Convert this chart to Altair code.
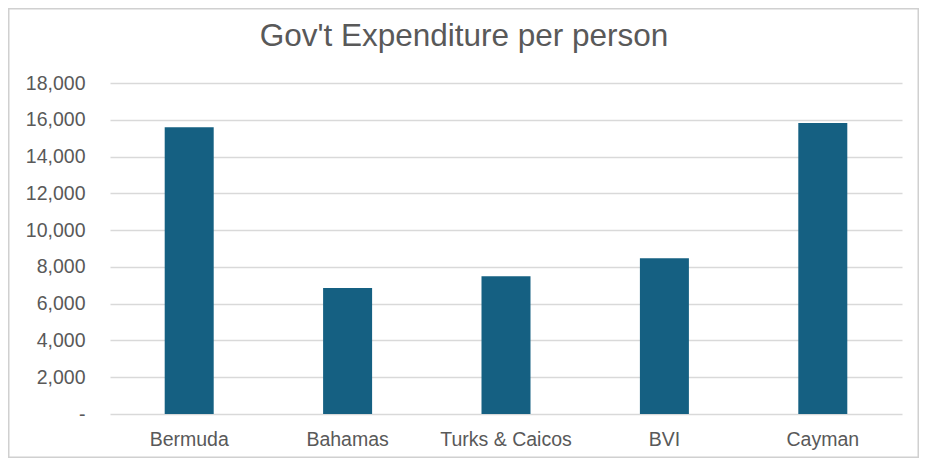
import altair as alt
import pandas as pd

countries = ["Bermuda", "Bahamas", "Turks & Caicos", "BVI", "Cayman"]
expenditure = [15590, 6850, 7490, 8465, 15820]
y_ticks = [0, 2000, 4000, 6000, 8000, 10000, 12000, 14000, 16000, 18000]

df = pd.DataFrame({"country": countries, "value": expenditure})

FONT = "Liberation Sans"
GREY = "#595959"

bars = alt.Chart(df).mark_bar(color="#156082", size=49).encode(
    x=alt.X("country:N", sort=countries, title=None,
            scale=alt.Scale(paddingInner=0, paddingOuter=0),
            axis=alt.Axis(labelAngle=0, domain=False, ticks=False, tickSize=0,
                          labelPadding=31, labelBaseline="alphabetic",
                          labelFont=FONT, labelFontSize=19.5, labelColor=GREY)),
    y=alt.Y("value:Q", title=None,
            scale=alt.Scale(domain=[0, 18000], nice=False),
            axis=alt.Axis(values=y_ticks, domain=False, ticks=False, tickSize=0,
                          labelPadding=25, gridColor="#d9d9d9", gridWidth=1.3,
                          labelExpr="datum.value == 0 ? '-\u00a0\u00a0' : format(datum.value, ',')",
                          labelFont=FONT, labelFontSize=19.5, labelColor=GREY)),
)

border = alt.Chart(df).mark_rect(fill=None, stroke="#d0d0d0", strokeWidth=1.5, clip=False).encode(
    x=alt.value(-101.25), x2=alt.value(808.25), y=alt.value(-74.25), y2=alt.value(374.25)
).transform_filter("datum.country == 'Bermuda'")

chart = alt.layer(border, bars).properties(
    width=792, height=331,
    autosize=alt.AutoSizeParams(type="none"),
    padding={"left": 102, "top": 75, "right": 17, "bottom": 44},
    background="white",
    title=alt.TitleParams("Gov't Expenditure per person", font=FONT, fontSize=31.5,
                          fontWeight="normal", color=GREY, anchor="middle",
                          frame="group", dx=-42, baseline="alphabetic", offset=-69),
).configure_view(stroke=None)

chart.save("out.html", embed_options={"renderer": "svg", "actions": False})
